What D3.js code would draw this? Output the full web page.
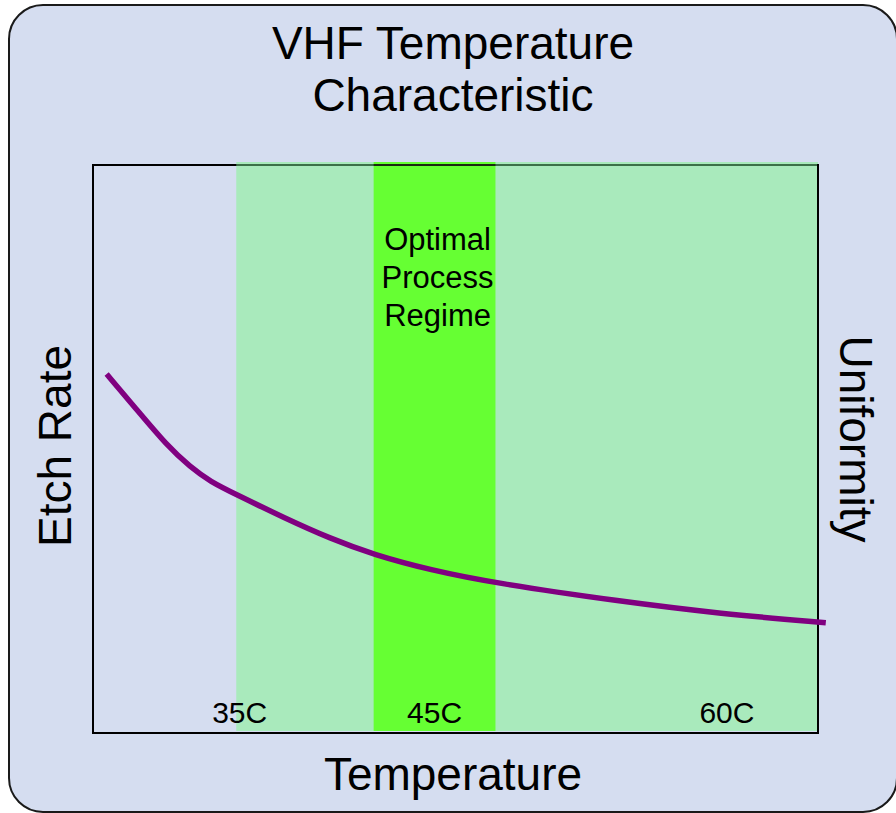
<!DOCTYPE html>
<html>
<head>
<meta charset="utf-8">
<script src="https://cdn.jsdelivr.net/npm/d3@7"></script>
<style>
  html, body { margin: 0; padding: 0; background: #ffffff; }
  svg { display: block; }
  text { font-family: "Liberation Sans", Arial, sans-serif; fill: #000; }
</style>
</head>
<body>
<script>
// Etch-rate curve: temperature (°C) vs relative etch rate
const temps = [28.2, 29.8, 31.3, 32.5, 33.5, 34.9, 37.3, 39.7, 41.9, 44.8, 48.1, 54.5, 59.7, 65.1];
const etchRate = [63.2, 56.7, 50.6, 46.8, 44.3, 41.9, 37.9, 34.2, 31.4, 28.7, 26.4, 23.2, 21.0, 19.4];

// Highlighted temperature regions
const regionNames = ["Process window", "Optimal Process Regime"];
const regionStart = [34.85, 41.9];
const regionEnd = [64.7, 48.15];
const regionColors = ["#a9eabc", "#66ff33"];

// Temperature labels along the bottom
const tickTemps = [35, 45, 60];
const tickLabels = ["35C", "45C", "60C"];

const titleLines = ["VHF Temperature", "Characteristic"];
const regimeLines = ["Optimal", "Process", "Regime"];

const W = 896, H = 813;
const frame = { left: 93, top: 165, right: 818, bottom: 733 };

const svg = d3.select("body").append("svg")
  .attr("width", W).attr("height", H);

// Rounded panel background
svg.append("rect")
  .attr("x", 9).attr("y", 5)
  .attr("width", 888).attr("height", 807)
  .attr("rx", 34).attr("ry", 34)
  .attr("fill", "#d5ddf0")
  .attr("stroke", "#1a1a1a")
  .attr("stroke-width", 2);

const x = d3.scaleLinear().domain([27.5, 64.7]).range([frame.left, frame.right]);
const y = d3.scaleLinear().domain([0, 100]).range([frame.bottom, frame.top]);

// Temperature regions
svg.append("g").selectAll("rect")
  .data(regionNames)
  .join("rect")
  .attr("x", (d, i) => x(regionStart[i]))
  .attr("width", (d, i) => x(regionEnd[i]) - x(regionStart[i]))
  .attr("y", y(100) - 3)
  .attr("height", y(0) - y(100) + 1)
  .attr("fill", (d, i) => regionColors[i]);

// Plot frame
svg.append("rect")
  .attr("x", frame.left).attr("y", frame.top)
  .attr("width", frame.right - frame.left)
  .attr("height", frame.bottom - frame.top)
  .attr("fill", "none")
  .attr("stroke", "#000")
  .attr("stroke-width", 2);

// Tinted top edge where the regions overlap the frame
svg.append("line")
  .attr("x1", x(regionStart[0])).attr("x2", x(regionEnd[0]) - 1)
  .attr("y1", frame.top).attr("y2", frame.top)
  .attr("stroke", "#3c7048").attr("stroke-width", 2);
svg.append("line")
  .attr("x1", x(regionStart[1])).attr("x2", x(regionEnd[1]))
  .attr("y1", frame.top).attr("y2", frame.top)
  .attr("stroke", "#1a2a10").attr("stroke-width", 2);

// Temperature labels
const axis = d3.axisBottom(x)
  .tickValues(tickTemps)
  .tickFormat((d, i) => tickLabels[i])
  .tickSize(0);
const axisG = svg.append("g")
  .attr("transform", `translate(0,${y(0)})`)
  .call(axis);
axisG.select(".domain").remove();
axisG.selectAll("text")
  .attr("y", -10)
  .attr("dy", 0)
  .style("font-family", '"Liberation Sans", Arial, sans-serif')
  .style("font-size", "30px")
  .attr("fill", "#000");

// Etch-rate curve
const line = d3.line()
  .x((d, i) => x(temps[i]))
  .y((d, i) => y(etchRate[i]))
  .curve(d3.curveBasis);
svg.append("path")
  .datum(temps)
  .attr("d", line)
  .attr("fill", "none")
  .attr("stroke", "#800080")
  .attr("stroke-width", 5.5)
  .attr("stroke-linecap", "butt");

// Optimal regime caption
const regimeCx = (x(regionStart[1]) + x(regionEnd[1])) / 2 + 3;
svg.append("text")
  .attr("text-anchor", "middle")
  .style("font-size", "31px")
  .selectAll("tspan")
  .data(regimeLines)
  .join("tspan")
  .attr("x", regimeCx)
  .attr("y", (d, i) => 250 + i * 38)
  .text(d => d);

// Title
svg.append("text")
  .attr("text-anchor", "middle")
  .style("font-size", "46px")
  .selectAll("tspan")
  .data(titleLines)
  .join("tspan")
  .attr("x", 453)
  .attr("y", (d, i) => 59 + i * 52)
  .text(d => d);

// Axis titles
svg.append("text")
  .attr("text-anchor", "middle")
  .attr("x", 453).attr("y", 790)
  .style("font-size", "46px")
  .text("Temperature");

svg.append("text")
  .attr("text-anchor", "middle")
  .attr("transform", "translate(71,446) rotate(-90)")
  .style("font-size", "46px")
  .text("Etch Rate");

svg.append("text")
  .attr("text-anchor", "middle")
  .attr("transform", "translate(840,439) rotate(90)")
  .style("font-size", "46px")
  .text("Uniformity");
</script>
</body>
</html>
